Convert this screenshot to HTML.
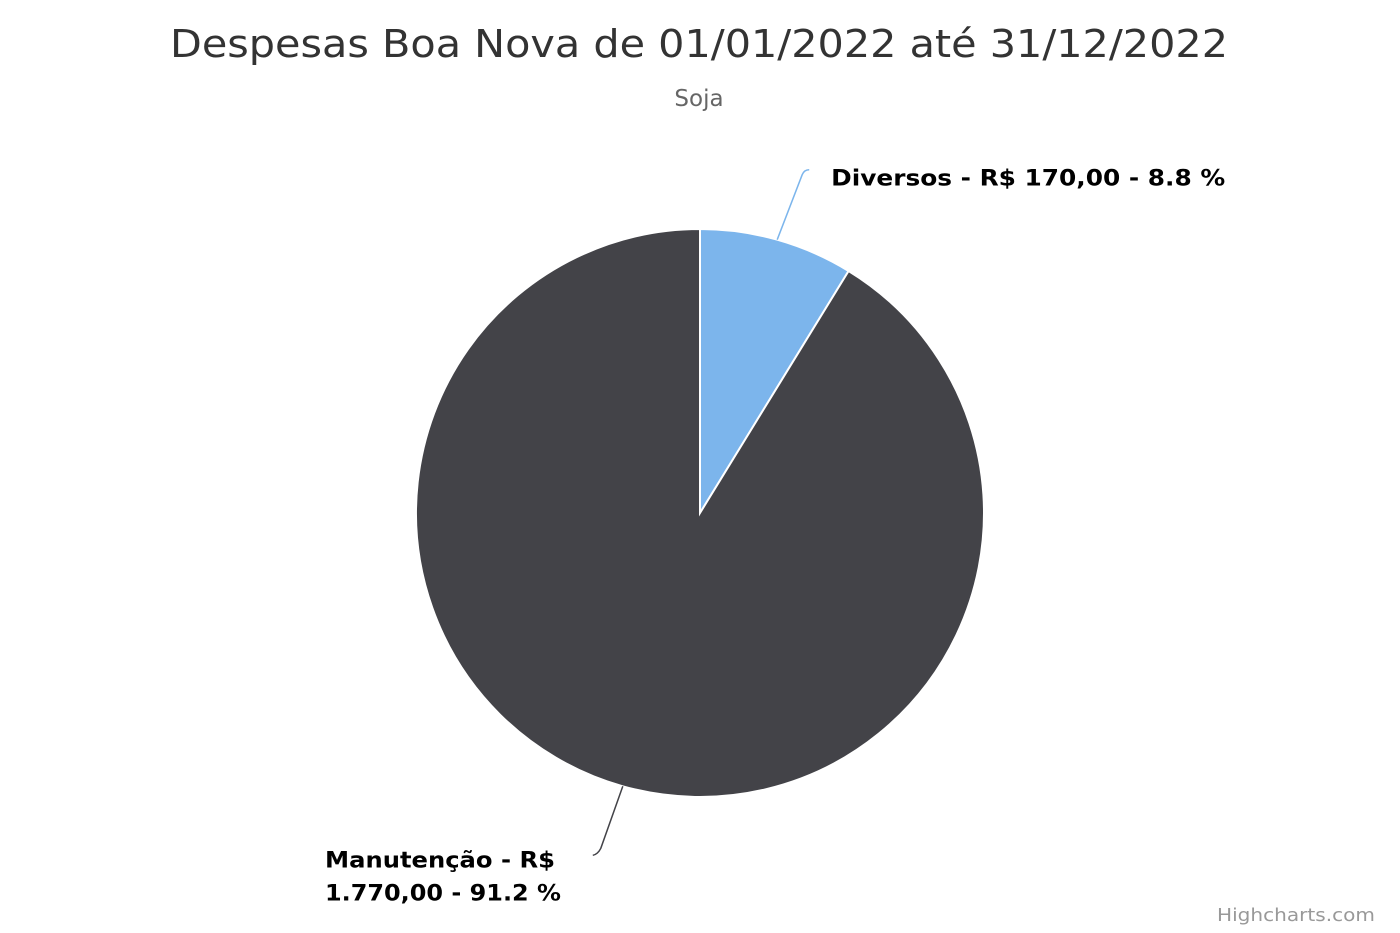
<!DOCTYPE html>
<html><head><meta charset="utf-8"><style>
html,body{margin:0;padding:0;background:#fff;}
svg{display:block;font-family:"DejaVu Sans","Liberation Sans",sans-serif;}
</style></head><body>
<svg id="chart" width="1400" height="933" viewBox="0 0 1400 933">
<rect width="1400" height="933" fill="#fff"/>
<text x="699" y="57" text-anchor="middle" font-size="38" fill="#333" textLength="1058" lengthAdjust="spacingAndGlyphs">Despesas Boa Nova de 01/01/2022 até 31/12/2022</text>
<text x="699" y="106" text-anchor="middle" font-size="23" fill="#666">Soja</text>
<g id="slices"></g>
<g id="labels"></g>
<text x="1375" y="921" text-anchor="end" font-size="18" fill="#999" textLength="158" lengthAdjust="spacingAndGlyphs">Highcharts.com</text>
</svg>
<script>
const categories = ["Diversos", "Manutenção"];
const values = [170, 1770];
const valueLabels = ["R$ 170,00", "R$ 1.770,00"];
const colors = ["#7cb5ec", "#434348"];
const cx = 700, cy = 513, r = 284;
const ns = "http://www.w3.org/2000/svg";
const total = values.reduce((a,b)=>a+b,0);
const pt = (ang, rad) => [cx + rad*Math.sin(ang), cy - rad*Math.cos(ang)];
const sg = document.getElementById('slices'), lg = document.getElementById('labels');
let start = 0;
values.forEach((v,i)=>{
  const frac = v/total, end = start + frac*2*Math.PI;
  const [x1,y1] = pt(start,r), [x2,y2] = pt(end,r);
  const p = document.createElementNS(ns,'path');
  p.setAttribute('d',`M${cx},${cy} L${x1},${y1} A${r},${r} 0 ${frac>0.5?1:0} 1 ${x2},${y2} Z`);
  p.setAttribute('fill',colors[i]); p.setAttribute('stroke','#fff'); p.setAttribute('stroke-width','2');
  
  
  sg.appendChild(p);
  const mid = (start+end)/2;
  const [ex,ey] = pt(mid,r);
  const pct = (frac*100).toFixed(1);
  const line = document.createElementNS(ns,'path');
  const t = document.createElementNS(ns,'text');
  t.setAttribute('font-size','22'); t.setAttribute('font-weight','bold'); t.setAttribute('fill','#000');
  t.setAttribute('lengthAdjust','spacingAndGlyphs');
  if (Math.sin(mid) >= 0) {
    line.setAttribute('d',`M${ex},${ey} L${ex+25},${ey-65} Q${ex+27},${ey-70} ${ex+32},${ey-70}`);
    t.setAttribute('x', ex+54); t.setAttribute('y', ey-54);
    t.setAttribute('textLength', 394);
    t.textContent = `${categories[i]} - ${valueLabels[i]} - ${pct} %`;
  } else {
    line.setAttribute('d',`M${ex},${ey} L${ex-22},${ey+62} Q${ex-25},${ey+68} ${ex-30},${ey+69}`);
    const parts = valueLabels[i].split(' ');
    const ts1 = document.createElementNS(ns,'tspan');
    ts1.setAttribute('x', 325); ts1.setAttribute('y', ey+81);
    ts1.setAttribute('textLength', 230); ts1.setAttribute('lengthAdjust','spacingAndGlyphs');
    ts1.textContent = `${categories[i]} - ${parts[0]}`;
    const ts2 = document.createElementNS(ns,'tspan');
    ts2.setAttribute('x', 325); ts2.setAttribute('y', ey+114);
    ts2.setAttribute('textLength', 236); ts2.setAttribute('lengthAdjust','spacingAndGlyphs');
    ts2.textContent = `${parts[1]} - ${pct} %`;
    t.appendChild(ts1); t.appendChild(ts2);
  }
  line.setAttribute('fill','none'); line.setAttribute('stroke',colors[i]); line.setAttribute('stroke-width','1.5');
  
  
  
  
  lg.appendChild(line); lg.appendChild(t);
  start = end;
});
</script>
</body></html>
